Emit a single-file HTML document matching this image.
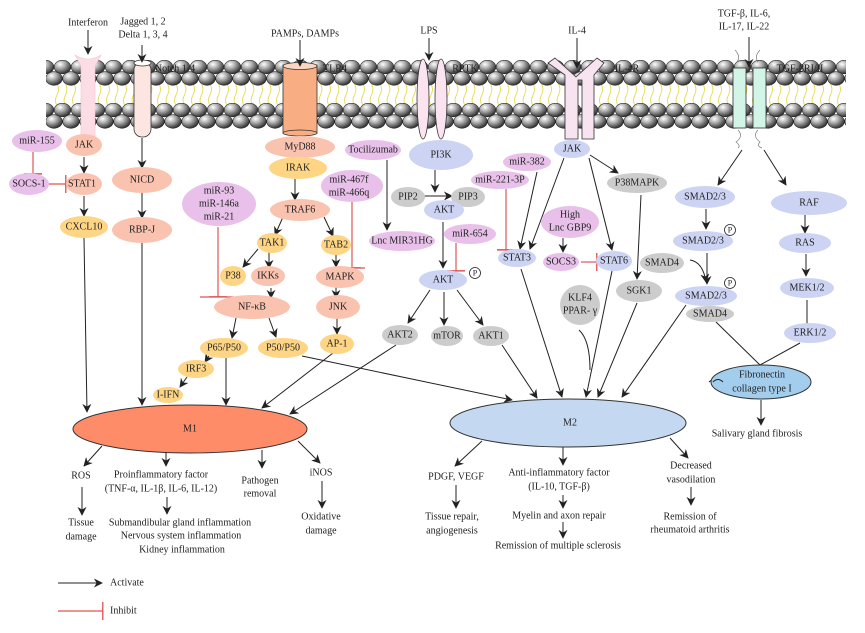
<!DOCTYPE html>
<html><head><meta charset="utf-8"><style>
html,body{margin:0;padding:0;background:#fff}
svg{display:block}
text{font-family:"Liberation Serif",serif;font-size:10px;fill:#222;text-anchor:middle;dominant-baseline:central}
</style></head><body>
<svg width="865" height="633" viewBox="0 0 865 633" xmlns="http://www.w3.org/2000/svg">
<defs>
<radialGradient id="bg" cx="35%" cy="30%" r="70%"><stop offset="0" stop-color="#fff"/><stop offset="0.45" stop-color="#aaa"/><stop offset="1" stop-color="#333"/></radialGradient>
<pattern id="balls" patternUnits="userSpaceOnUse" x="54" y="60" width="17" height="26">
<ellipse cx="8.5" cy="7" rx="8.3" ry="6.8" fill="url(#bg)" stroke="#222" stroke-width="0.6"/>
<ellipse cx="0" cy="18.5" rx="8.3" ry="6.8" fill="url(#bg)" stroke="#222" stroke-width="0.6"/>
<ellipse cx="17" cy="18.5" rx="8.3" ry="6.8" fill="url(#bg)" stroke="#222" stroke-width="0.6"/>
</pattern>
<pattern id="balls2" patternUnits="userSpaceOnUse" x="54" y="103" width="17" height="26">
<ellipse cx="8.5" cy="7" rx="8.3" ry="6.8" fill="url(#bg)" stroke="#222" stroke-width="0.6"/>
<ellipse cx="0" cy="18.5" rx="8.3" ry="6.8" fill="url(#bg)" stroke="#222" stroke-width="0.6"/>
<ellipse cx="17" cy="18.5" rx="8.3" ry="6.8" fill="url(#bg)" stroke="#222" stroke-width="0.6"/>
</pattern>
<pattern id="tails" patternUnits="userSpaceOnUse" x="54" y="84" width="8.5" height="22">
<path d="M3 0 q3 5 0 11 q-3 5 0 11" fill="none" stroke="#e6d63c" stroke-width="0.8"/>
</pattern>
<marker id="a" viewBox="0 0 10 10" refX="9" refY="5" markerWidth="9" markerHeight="9" orient="auto" markerUnits="userSpaceOnUse"><path d="M0 0 L10 5 L0 10 L3 5 Z" fill="#222"/></marker>
<marker id="t" viewBox="0 0 4 20" refX="2" refY="10" markerWidth="4" markerHeight="18" orient="auto" markerUnits="userSpaceOnUse"><rect x="1" y="0" width="1.5" height="20" fill="#e05555"/></marker>
</defs>

<!-- membrane -->
<rect x="55" y="84" width="790" height="22" fill="url(#tails)"/>
<rect x="46" y="60" width="800" height="26" fill="url(#balls)"/>
<rect x="46" y="103" width="800" height="26" fill="url(#balls2)"/>

<!-- receptors -->
<path d="M75 55 Q88 63 101 55 L95 66 L95 137 L81 137 L81 66 Z" fill="#fcdde6" stroke="#f4c4d2" stroke-width="0.6"/>
<rect x="134" y="62" width="17" height="75" rx="8" fill="#fde6e2" stroke="#333" stroke-width="0.8"/>
<ellipse cx="142.5" cy="63" rx="8.5" ry="3" fill="#fff" stroke="#333" stroke-width="0.8"/>
<rect x="283" y="65" width="34" height="68" fill="#f9ad82" stroke="#333" stroke-width="0.8"/>
<ellipse cx="300" cy="133" rx="17" ry="3" fill="#f9ad82" stroke="#333" stroke-width="0.8"/>
<ellipse cx="300" cy="66" rx="17" ry="3.5" fill="#fcd6c0" stroke="#333" stroke-width="0.8"/>
<ellipse cx="423" cy="99" rx="6" ry="40" fill="#fbe3ef" stroke="#333" stroke-width="0.8"/>
<ellipse cx="441" cy="99" rx="6" ry="40" fill="#fbe3ef" stroke="#333" stroke-width="0.8"/>
<path d="M548 63 L555 58 L576 77 L597 58 L604 63 L594 75 L594 139 L582 139 L582 80 L578 80 L578 139 L565 139 L565 75 Z" fill="#f8e4f0" stroke="#333" stroke-width="0.8"/>
<path d="M735 50 q6 6 2 12 M760 50 q-6 6 -2 12 M738 130 q6 6 -2 12 q5 4 2 6 M758 130 q-6 6 2 12 q-4 4 2 6" fill="none" stroke="#777" stroke-width="0.7"/>
<rect x="733" y="68" width="13" height="60" fill="#d3f5e8" stroke="#333" stroke-width="0.8"/>
<rect x="753" y="68" width="13" height="60" fill="#d3f5e8" stroke="#333" stroke-width="0.8"/>
<text x="175" y="69">Notch 1-4</text><text x="335" y="69">TLR4</text><text x="465" y="69">RPTK</text>
<text x="627" y="69">IL-4R</text><text x="800" y="69">TGF-βRI/II</text>

<!-- top labels -->
<text x="88" y="23">Interferon</text>
<text x="143" y="22">Jagged 1, 2</text><text x="143" y="35">Delta 1, 3, 4</text>
<text x="305" y="34">PAMPs, DAMPs</text><text x="429" y="31">LPS</text><text x="577" y="31">IL-4</text>
<text x="744" y="14">TGF-β, IL-6,</text><text x="744" y="27">IL-17, IL-22</text>

<g stroke="#222" stroke-width="1" fill="none" marker-end="url(#a)">
<path d="M88 30 V54"/><path d="M142 45 V62"/><path d="M300 40 V66"/><path d="M429 38 V60"/><path d="M577 38 V68"/><path d="M749 37 V67"/>
<path d="M84 157 V173"/><path d="M84 196 V216"/><path d="M84 238 L87 412"/>
<path d="M142 138 V168"/><path d="M142 193 V218"/><path d="M142 242 V405"/>
<path d="M295 179 V200"/><path d="M283 217 L275 235"/><path d="M324 217 L333 236"/>
<path d="M258 249 L243 267"/><path d="M269 252 V268"/><path d="M271 288 V298"/>
<path d="M336 253 V267"/><path d="M336 287 V298"/><path d="M337 318 V334"/>
<path d="M387 160 V230"/>
<path d="M236 318 L232 338"/><path d="M269 318 L276 337"/>
<path d="M209 356 L205 362"/><path d="M187 377 L180 387"/><path d="M226 358 V405"/>
<path d="M333 353 L262 408"/><path d="M302 356 L512 400"/><path d="M396 345 L290 414"/>
<path d="M435 170 V192"/><path d="M420 196 H452"/><path d="M443 222 V268"/>
<path d="M430 290 L408 323"/><path d="M444 292 V325"/><path d="M457 290 L483 325"/>
<path d="M502 345 L537 398"/>
<path d="M537 172 L520 249"/><path d="M564 158 L530 249"/>
<path d="M590 155 L618 173"/><path d="M589 158 L612 250"/>
<path d="M563 238 V252"/><path d="M641 195 L637 279"/>
<path d="M521 269 L562 397"/><path d="M612 271 L586 397"/><path d="M637 303 L598 397"/><path d="M686 305 L622 397"/>
<path d="M742 150 L718 185"/><path d="M764 150 L786 185"/>
<path d="M706 209 V229"/><path d="M707 253 V284"/><path d="M690 260 Q703 262 706 282"/>
<path d="M805 215 V233"/><path d="M806 254 V276"/><path d="M807 300 V342"/>
<path d="M761 400 V425"/>
<path d="M102 446 L84 466"/><path d="M166 453 V466"/><path d="M262 450 V468"/><path d="M298 441 L320 463"/>
<path d="M82 487 V515"/><path d="M167 497 V514"/><path d="M322 481 V508"/>
<path d="M482 441 L455 466"/><path d="M563 447 V465"/><path d="M670 438 L688 458"/>
<path d="M456 485 V508"/><path d="M563 495 V508"/><path d="M563 522 V538"/><path d="M691 487 V505"/>
<path d="M58 583 H102"/>
</g>
<g stroke="#222" stroke-width="1" fill="none">
<path d="M579 330 Q590 340 590 370"/>
<path d="M716 322 L760 365 L800 343"/>
<path d="M709 382 q4 -4 8 0"/>
</g>
<g stroke="#e05555" stroke-width="1.2" fill="none" marker-end="url(#t)">
<path d="M33 152 V174"/><path d="M47 184 H66"/>
<path d="M218 227 V297"/><path d="M352 202 V268"/>
<path d="M506 189 V250"/><path d="M456 243 V271"/><path d="M581 262 H597"/>
<path d="M58 611 H103"/>
</g>
<g stroke="#e05555" stroke-width="1.2">
<line x1="200" y1="297" x2="234" y2="297"/><line x1="342" y1="268" x2="365" y2="268"/>
<line x1="497" y1="250" x2="516" y2="250"/><line x1="450" y1="271" x2="465" y2="271"/>
<line x1="24" y1="174" x2="42" y2="174"/>
</g>

<!-- nodes -->
<g stroke="none">
<ellipse cx="37" cy="141" rx="25" ry="11" fill="#e8c0ea"/><text x="37" y="141">miR-155</text>
<ellipse cx="84" cy="145" rx="18" ry="11" fill="#f9c3b0"/><text x="84" y="145">JAK</text>
<ellipse cx="29" cy="184" rx="20" ry="11" fill="#e8c0ea"/><text x="29" y="184">SOCS-1</text>
<ellipse cx="84" cy="184" rx="18" ry="11" fill="#f9c3b0"/><text x="82" y="184">STAT1</text>
<ellipse cx="84" cy="227" rx="24" ry="11" fill="#fdd585"/><text x="84" y="227">CXCL10</text>
<ellipse cx="142" cy="180" rx="30" ry="13" fill="#f9c3b0"/><text x="142" y="180">NICD</text>
<ellipse cx="142" cy="230" rx="30" ry="13" fill="#f9c3b0"/><text x="142" y="230">RBP-J</text>
<ellipse cx="300" cy="147" rx="35" ry="11" fill="#f9c3b0"/><text x="300" y="147">MyD88</text>
<ellipse cx="298" cy="168" rx="29" ry="11" fill="#fdd585"/><text x="298" y="168">IRAK</text>
<ellipse cx="300" cy="210" rx="30" ry="11" fill="#f9c3b0"/><text x="300" y="210">TRAF6</text>
<ellipse cx="272" cy="243" rx="15" ry="10" fill="#fdd585"/><text x="272" y="243">TAK1</text>
<ellipse cx="336" cy="245" rx="15" ry="10" fill="#fdd585"/><text x="336" y="245">TAB2</text>
<ellipse cx="233" cy="276" rx="13" ry="10" fill="#fdd585"/><text x="233" y="276">P38</text>
<ellipse cx="268" cy="276" rx="17" ry="10" fill="#f9c3b0"/><text x="268" y="276">IKKs</text>
<ellipse cx="340" cy="277" rx="24" ry="11" fill="#f9c3b0"/><text x="340" y="277">MAPK</text>
<ellipse cx="252" cy="307" rx="38" ry="12" fill="#f9c3b0"/><text x="252" y="307">NF-κB</text>
<ellipse cx="338" cy="307" rx="22" ry="12" fill="#f9c3b0"/><text x="338" y="307">JNK</text>
<ellipse cx="219" cy="204" rx="37" ry="22" fill="#e8c0ea"/><text x="219" y="191">miR-93</text><text x="219" y="204">miR-146a</text><text x="219" y="217">miR-21</text>
<ellipse cx="352" cy="186" rx="31" ry="16" fill="#e8c0ea"/><text x="349" y="180">miR-467f</text><text x="349" y="193">miR-466q</text>
<ellipse cx="373" cy="150" rx="28" ry="10" fill="#e8c0ea"/><text x="373" y="150">Tocilizumab</text>
<ellipse cx="402" cy="241" rx="33" ry="10" fill="#e8c0ea"/><text x="402" y="241">Lnc MIR31HG</text>
<ellipse cx="441" cy="155" rx="32" ry="15" fill="#cdd3f3"/><text x="441" y="155">PI3K</text>
<ellipse cx="408" cy="197" rx="17" ry="10" fill="#cccccc"/><text x="408" y="197">PIP2</text>
<ellipse cx="468" cy="197" rx="17" ry="10" fill="#cccccc"/><text x="468" y="197">PIP3</text>
<ellipse cx="444" cy="210" rx="20" ry="10" fill="#cdd3f3"/><text x="444" y="210">AKT</text>
<ellipse cx="470" cy="234" rx="26" ry="10" fill="#e8c0ea"/><text x="470" y="234">miR-654</text>
<ellipse cx="443" cy="280" rx="24" ry="10" fill="#cdd3f3"/><text x="443" y="280">AKT</text>
<ellipse cx="500" cy="180" rx="29" ry="9" fill="#e8c0ea"/><text x="500" y="180">miR-221-3P</text>
<ellipse cx="527" cy="162" rx="24" ry="9" fill="#e8c0ea"/><text x="527" y="162">miR-382</text>
<ellipse cx="517" cy="258" rx="19" ry="9" fill="#cdd3f3"/><text x="517" y="258">STAT3</text>
<ellipse cx="572" cy="149" rx="18" ry="9" fill="#cdd3f3"/><text x="572" y="149">JAK</text>
<ellipse cx="637" cy="183" rx="30" ry="10" fill="#cccccc"/><text x="637" y="183">P38MAPK</text>
<ellipse cx="570" cy="222" rx="29" ry="16" fill="#e8c0ea"/><text x="570" y="215">High</text><text x="570" y="228">Lnc GBP9</text>
<ellipse cx="561" cy="262" rx="18" ry="9" fill="#e8c0ea"/><text x="561" y="262">SOCS3</text>
<ellipse cx="614" cy="261" rx="18" ry="10" fill="#cdd3f3"/><text x="614" y="261">STAT6</text>
<ellipse cx="639" cy="291" rx="23" ry="11" fill="#cccccc"/><text x="639" y="291">SGK1</text>
<ellipse cx="580" cy="305" rx="20" ry="20" fill="#cccccc"/><text x="580" y="298">KLF4</text><text x="580" y="311">PPAR- γ</text>
<ellipse cx="705" cy="197" rx="30" ry="11" fill="#cdd3f3"/><text x="705" y="197">SMAD2/3</text>
<ellipse cx="703" cy="241" rx="30" ry="10" fill="#cdd3f3"/><text x="703" y="241">SMAD2/3</text>
<ellipse cx="662" cy="263" rx="22" ry="10" fill="#cccccc"/><text x="662" y="263">SMAD4</text>
<ellipse cx="706" cy="296" rx="31" ry="10" fill="#cdd3f3"/><text x="706" y="296">SMAD2/3</text>
<ellipse cx="710" cy="314" rx="24" ry="8" fill="#cccccc"/><text x="710" y="314">SMAD4</text>
<ellipse cx="809" cy="203" rx="38" ry="12" fill="#cdd3f3"/><text x="809" y="203">RAF</text>
<ellipse cx="805" cy="243" rx="26" ry="10" fill="#cdd3f3"/><text x="805" y="243">RAS</text>
<ellipse cx="807" cy="288" rx="27" ry="10" fill="#cdd3f3"/><text x="807" y="288">MEK1/2</text>
<ellipse cx="810" cy="333" rx="26" ry="10" fill="#cdd3f3"/><text x="810" y="333">ERK1/2</text>
<ellipse cx="400" cy="335" rx="18" ry="10" fill="#cccccc"/><text x="400" y="335">AKT2</text>
<ellipse cx="447" cy="336" rx="16" ry="10" fill="#cccccc"/><text x="447" y="336">mTOR</text>
<ellipse cx="491" cy="336" rx="18" ry="10" fill="#cccccc"/><text x="491" y="336">AKT1</text>
<ellipse cx="224" cy="348" rx="24" ry="10" fill="#fdd585"/><text x="224" y="348">P65/P50</text>
<ellipse cx="283" cy="348" rx="25" ry="10" fill="#fdd585"/><text x="283" y="348">P50/P50</text>
<ellipse cx="337" cy="344" rx="17" ry="10" fill="#fdd585"/><text x="337" y="344">AP-1</text>
<ellipse cx="196" cy="369" rx="18" ry="9" fill="#fdd585"/><text x="196" y="369">IRF3</text>
<ellipse cx="168" cy="395" rx="15" ry="8" fill="#fdd585"/><text x="168" y="395">I-IFN</text>
</g>
<g fill="#fff" stroke="#222" stroke-width="0.8">
<circle cx="475" cy="273" r="5.5"/><circle cx="730" cy="230" r="5.5"/><circle cx="730" cy="283" r="5.5"/>
</g>
<g style="font-size:8px"><text x="475" y="273" style="font-size:8px">P</text><text x="730" y="230" style="font-size:8px">P</text><text x="730" y="283" style="font-size:8px">P</text></g>

<ellipse cx="190" cy="429" rx="117" ry="24" fill="#ff8c69" stroke="#333" stroke-width="1"/><text x="190" y="429">M1</text>
<ellipse cx="568" cy="423" rx="118" ry="24" fill="#c5d8f1" stroke="#333" stroke-width="1"/><text x="570" y="423">M2</text>
<ellipse cx="761" cy="382" rx="50" ry="17" fill="#a2cdec" stroke="#333" stroke-width="1"/>
<text x="762" y="375">Fibronectin</text><text x="762" y="389">collagen type I</text>
<g stroke="#222" fill="none"><path d="M713 382 q5 -5 10 0"/></g>

<text x="757" y="434">Salivary gland fibrosis</text>
<text x="81" y="476">ROS</text><text x="81" y="523">Tissue</text><text x="81" y="537">damage</text>
<text x="161" y="475">Proinflammatory factor</text><text x="161" y="489">(TNF-α, IL-1β, IL-6, IL-12)</text>
<text x="180" y="523">Submandibular gland inflammation</text><text x="181" y="536">Nervous system inflammation</text><text x="182" y="550">Kidney inflammation</text>
<text x="260" y="481">Pathogen</text><text x="260" y="494">removal</text>
<text x="321" y="473">iNOS</text><text x="321" y="517">Oxidative</text><text x="321" y="531">damage</text>
<text x="456" y="477">PDGF, VEGF</text><text x="452" y="517">Tissue repair,</text><text x="452" y="531">angiogenesis</text>
<text x="559" y="473">Anti-inflammatory factor</text><text x="559" y="487">(IL-10, TGF-β)</text>
<text x="559" y="516">Myelin and axon repair</text><text x="558" y="546">Remission of multiple sclerosis</text>
<text x="691" y="466">Decreased</text><text x="691" y="480">vasodilation</text>
<text x="690" y="517">Remission of</text><text x="690" y="530">rheumatoid arthritis</text>
<text x="110" y="583" style="text-anchor:start">Activate</text>
<text x="110" y="611" style="text-anchor:start">Inhibit</text>
</svg>
</body></html>
